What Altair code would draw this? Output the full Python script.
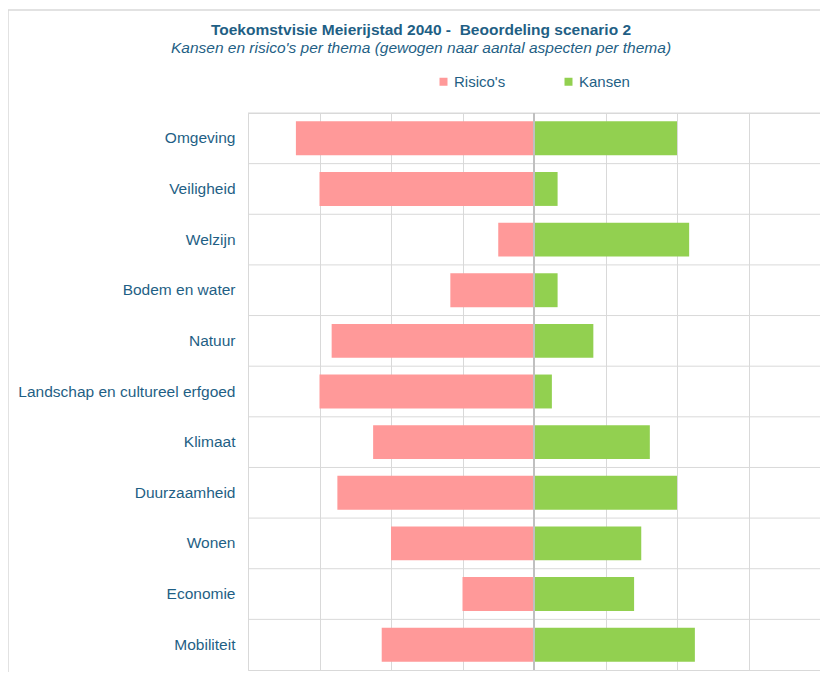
import altair as alt
import pandas as pd

categories = ["Omgeving", "Veiligheid", "Welzijn", "Bodem en water", "Natuur",
              "Landschap en cultureel erfgoed", "Klimaat", "Duurzaamheid",
              "Wonen", "Economie", "Mobiliteit"]
risicos = [3.33, 3.0, 0.5, 1.17, 2.83, 3.0, 2.25, 2.75, 2.0, 1.0, 2.13]
kansen = [2.0, 0.33, 2.17, 0.33, 0.83, 0.25, 1.62, 2.0, 1.5, 1.4, 2.25]
series = ["Risico's", "Kansen"]
colors = ["#FF9999", "#92D050"]

rows = []
for c, r, k in zip(categories, risicos, kansen):
    rows.append({"thema": c, "reeks": "Risico's", "waarde": -r})
    rows.append({"thema": c, "reeks": "Kansen", "waarde": k})
df = pd.DataFrame(rows)
cat_df = pd.DataFrame({"thema": categories})

TXT = "#1f5f85"
GRID = "#d9d9d9"
FONT = "Liberation Sans"

yscale = alt.Scale(domain=categories, paddingInner=0, paddingOuter=0)
xscale = alt.Scale(domain=[-4, 4], nice=False, zero=False)

bars = alt.Chart(df).mark_bar(height=alt.RelativeBandSize(0.67)).encode(
    y=alt.Y("thema:N", scale=yscale, sort=categories,
            axis=alt.Axis(title=None, ticks=False, domain=False, grid=False,
                          labelFontSize=15.5, labelColor=TXT, labelFont=FONT,
                          labelPadding=13, labelLimit=400)),
    x=alt.X("waarde:Q", scale=xscale,
            axis=alt.Axis(title=None, labels=False, ticks=False, domain=False,
                          grid=True, gridColor=GRID, gridWidth=1,
                          values=[-4, -3, -2, -1, 0, 1, 2, 3, 4])),
    color=alt.Color("reeks:N", scale=alt.Scale(domain=series, range=colors),
                    legend=alt.Legend(title=None, orient="none", legendX=188,
                                      legendY=-39, direction="horizontal",
                                      symbolType="square", symbolSize=64,
                                      symbolStrokeWidth=0, labelFontSize=15,
                                      labelColor=TXT, labelFont=FONT,
                                      labelOffset=3, columnPadding=55,
                                      padding=0)),
)

hgrid = alt.Chart(cat_df).mark_rule(color=GRID, strokeWidth=1).encode(
    y=alt.Y("thema:N", scale=yscale, sort=categories, bandPosition=0)
)

center = alt.Chart(pd.DataFrame({"x": [0]})).mark_rule(
    color="#c0c0c0", strokeWidth=2).encode(x=alt.X("x:Q", scale=xscale))

frame = alt.Chart(pd.DataFrame({"f": [0]})).mark_rect(
    fill="transparent", stroke=GRID, strokeWidth=1.5).encode(
    x=alt.value(-240), x2=alt.value(700), y=alt.value(-103), y2=alt.value(700))

chart = alt.layer(frame, hgrid, bars, center).properties(
    width=572, height=557,
    title=alt.Title(
        "Toekomstvisie Meierijstad 2040 -\u00a0 Beoordeling scenario 2",
        subtitle="Kansen en risico's per thema (gewogen naar aantal aspecten per thema)",
        anchor="middle", frame="group", dx=-113, offset=-47,
        font=FONT, fontSize=15.5, fontWeight="bold", color=TXT,
        subtitleFont=FONT, subtitleFontSize=15.5, subtitleFontStyle="italic",
        subtitleColor=TXT, subtitlePadding=2),
    autosize=alt.AutoSizeParams(type="none"),
    padding={"left": 240, "top": 105, "right": 0, "bottom": 2},
).configure_view(stroke=GRID)

chart.save("out.html", embed_options={"renderer": "svg", "actions": False})
